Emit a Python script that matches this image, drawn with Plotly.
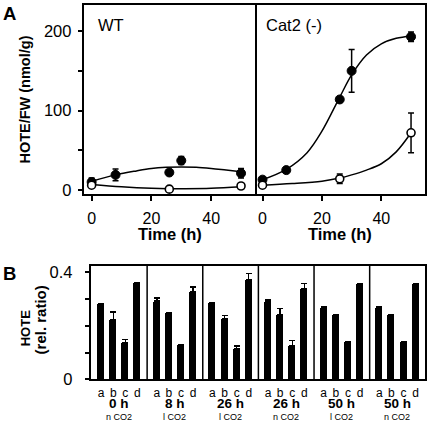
import plotly.graph_objects as go

# ---------------- Panel A data ----------------
wt_time_filled = [0, 8, 26, 30, 50]
wt_filled = [10, 19, 22, 37, 21]
wt_filled_err = [5, 7.5, 0, 5, 6]
wt_time_open = [0, 26, 50]
wt_open = [6, 1, 5]
wt_open_err = [0, 0, 0]

wt_fit_filled_x = [0, 8, 15, 20, 25, 30, 35, 40, 45, 50]
wt_fit_filled_y = [11, 19, 24, 27, 28.5, 29, 28.5, 27, 25, 23]
wt_fit_open_x = [0, 10, 20, 26, 30, 40, 50]
wt_fit_open_y = [7, 4, 2, 1.5, 1.5, 2, 4]

cat_time_filled = [0, 8, 26, 30, 50]
cat_filled = [13, 25, 114, 150, 193]
cat_filled_err = [3, 0, 0, 27, 6]
cat_time_open = [0, 26, 50]
cat_open = [6, 14, 72]
cat_open_err = [0, 6, 25]

cat_fit_filled_x = [0, 8, 15, 20, 26, 30, 35, 40, 45, 50]
cat_fit_filled_y = [13, 26, 47, 74, 117, 145, 170, 184, 191, 194]
cat_fit_open_x = [0, 10, 20, 26, 30, 35, 40, 45, 50]
cat_fit_open_y = [6, 8, 11, 15, 19, 25, 33, 48, 72]

# ---------------- Panel B data ----------------
group_times = ["0 h", "8 h", "26 h", "26 h", "50 h", "50 h"]
group_co2 = ["n CO2", "l CO2", "l CO2", "n CO2", "l CO2", "n CO2"]
bar_letters = ["a", "b", "c", "d"]
hote_ratio = [
    [0.283, 0.224, 0.137, 0.360],
    [0.292, 0.249, 0.130, 0.328],
    [0.286, 0.227, 0.115, 0.373],
    [0.289, 0.243, 0.127, 0.338],
    [0.270, 0.243, 0.142, 0.357],
    [0.270, 0.243, 0.142, 0.357],
]
hote_err = [
    [0.0, 0.027, 0.012, 0.0],
    [0.011, 0.0, 0.0, 0.016],
    [0.0, 0.012, 0.009, 0.023],
    [0.008, 0.021, 0.018, 0.019],
    [0.0, 0.0, 0.0, 0.0],
    [0.0, 0.0, 0.0, 0.0],
]

GROUP_W = 4.6
bar_x, bar_y, bar_e, tick_text = [], [], [], []
for g in range(6):
    for k in range(4):
        bar_x.append(g * GROUP_W + 0.8 + k)
        bar_y.append(hote_ratio[g][k])
        bar_e.append(hote_err[g][k])
        tick_text.append(bar_letters[k])

fig = go.Figure()


def add_panel(xa, ya, fx1, fy1, fx2, fy2, tx1, y1, e1, tx2, y2, e2):
    fig.add_trace(go.Scatter(x=fx1, y=fy1, mode="lines", line=dict(color="black", width=1.5, shape="spline"),
                             xaxis=xa, yaxis=ya, showlegend=False, hoverinfo="skip"))
    fig.add_trace(go.Scatter(x=fx2, y=fy2, mode="lines", line=dict(color="black", width=1.5, shape="spline"),
                             xaxis=xa, yaxis=ya, showlegend=False, hoverinfo="skip"))
    fig.add_trace(go.Scatter(x=tx1, y=y1, mode="markers",
                             marker=dict(size=9, color="black", line=dict(color="black", width=1)),
                             error_y=dict(type="data", array=e1, color="black", thickness=1.5, width=3),
                             xaxis=xa, yaxis=ya, showlegend=False))
    fig.add_trace(go.Scatter(x=tx2, y=y2, mode="markers",
                             marker=dict(size=8, color="white", line=dict(color="black", width=1.6)),
                             error_y=dict(type="data", array=e2, color="black", thickness=1.5, width=3),
                             xaxis=xa, yaxis=ya, showlegend=False))


add_panel("x", "y", wt_fit_filled_x, wt_fit_filled_y, wt_fit_open_x, wt_fit_open_y,
          wt_time_filled, wt_filled, wt_filled_err, wt_time_open, wt_open, wt_open_err)
add_panel("x2", "y2", cat_fit_filled_x, cat_fit_filled_y, cat_fit_open_x, cat_fit_open_y,
          cat_time_filled, cat_filled, cat_filled_err, cat_time_open, cat_open, cat_open_err)

fig.add_trace(go.Bar(x=bar_x, y=bar_y, width=0.58, marker=dict(color="black", line=dict(width=0)),
                     error_y=dict(type="data", symmetric=False, array=bar_e, arrayminus=[0] * len(bar_e),
                                  color="black", thickness=1.5, width=3),
                     xaxis="x3", yaxis="y3", showlegend=False))

W, H = 427, 432
# the photographed page comes out slightly reduced; positions are stretched to compensate
KX = 426.3 / 423
KY = 1 / 0.98


def px(x):
    return x * KX / W


def py(y):
    return 1 - y * KY / H


def pyr(y):
    # raw page position (no compensation), for texts near the bottom edge
    return 1 - y / H


FONT = "Liberation Sans, Arial, sans-serif"
BLACK = "black"


def axis_style(size, standoff, ticks="outside", mirror=True):
    return dict(showline=True, linecolor=BLACK, linewidth=1.5, mirror=mirror, showgrid=False,
                zeroline=False, ticks=ticks, tickcolor=BLACK, tickwidth=1.5, ticklen=5,
                ticklabelstandoff=standoff,
                tickfont=dict(size=size, color=BLACK, family=FONT))


xA_range = [-2.4, 54.8]
yA_range = [-5, 233]

fig.update_layout(
    width=W, height=H,
    margin=dict(l=0, r=0, t=0, b=0),
    paper_bgcolor="white", plot_bgcolor="white",
    font=dict(family=FONT, color=BLACK),
    bargap=0,
    xaxis=dict(domain=[px(84), px(254)], range=xA_range, tickvals=[0, 20, 40], anchor="y",
               **axis_style(16, 4)),
    yaxis=dict(domain=[py(193), py(3)], range=yA_range, tickvals=[0, 50, 100, 150, 200],
               ticktext=["0", "", "100", "", "200"], anchor="x", **axis_style(16.5, 3)),
    xaxis2=dict(domain=[px(254), px(423)], range=xA_range, tickvals=[0, 20, 40], anchor="y2",
                **axis_style(16, 4)),
    yaxis2=dict(domain=[py(193), py(3)], range=yA_range, tickvals=[], showticklabels=False,
                anchor="x2", side="right", **axis_style(16, 3, ticks="", mirror=False)),
    xaxis3=dict(domain=[px(91), px(423)], range=[0, 6 * GROUP_W], tickvals=bar_x, ticktext=tick_text,
                anchor="y3", **axis_style(12, 1, ticks="")),
    yaxis3=dict(domain=[py(379.5), py(265)], range=[0, 0.425], tickvals=[0, 0.1, 0.2, 0.3, 0.4],
                ticktext=["0", "", "", "", "0.4"], anchor="x3", **axis_style(16.5, 9)),
)

shapes = []
for g in range(1, 6):
    shapes.append(dict(type="line", xref="x3", yref="y3 domain", x0=g * GROUP_W, x1=g * GROUP_W,
                       y0=0, y1=1, line=dict(color=BLACK, width=1.5)))
fig.update_layout(shapes=shapes)


def note(text, x, y, size, xref="paper", xanchor="center", angle=0):
    return dict(text=text, x=x, y=y, xref=xref, yref="paper", xanchor=xanchor, yanchor="middle",
                textangle=angle, showarrow=False, borderpad=0,
                font=dict(size=size, family=FONT, color=BLACK))


ann = [
    note("<b>A</b>", px(2), py(11.5), 18.5, xanchor="left"),
    note("<b>B</b>", px(2), py(273), 18.5, xanchor="left"),
    note("WT", px(96), py(23), 16.5, xanchor="left"),
    note("Cat2 (-)", px(264), py(23), 16.5, xanchor="left"),
    note("<b>Time (h)</b>", px(169), py(233.5), 16.5),
    note("<b>Time (h)</b>", px(338.5), py(233.5), 16.5),
    note("<b>HOTE/FW (nmol/g)</b>", px(25), py(98), 14.5, angle=-90),
    note("<b>HOTE</b>", px(25), py(328), 13, angle=-90),
    note("<b>(rel. ratio)</b>", px(40), py(320), 15, angle=-90),
]
for g in range(6):
    cx = g * GROUP_W + GROUP_W / 2
    ann.append(note("<b>" + group_times[g] + "</b>", cx, pyr(411.5), 13.5, xref="x3"))
    ann.append(note(group_co2[g], cx, pyr(426), 9, xref="x3"))
fig.update_layout(annotations=ann)

# Pin the graph to the top-left corner of the window so the page does not overflow.
pin = ("document.body.style.margin='0';"
       "var gd=document.querySelector('.plotly-graph-div');"
       "gd.style.position='fixed';gd.style.left='0px';gd.style.top='0px';")
fig.write_html("out.html", config={"displayModeBar": False}, post_script=pin)
